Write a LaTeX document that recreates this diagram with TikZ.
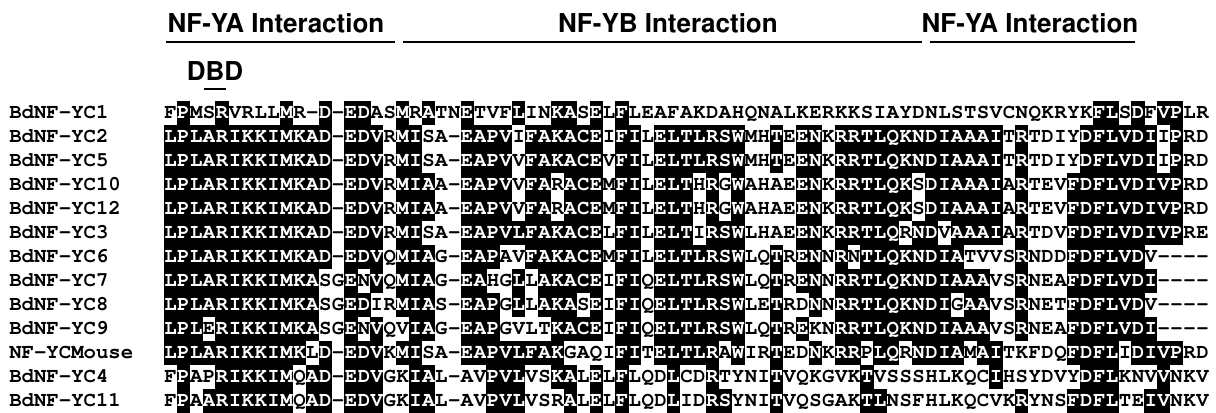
\documentclass[tikz,border=0pt]{standalone}
\usepackage[T1]{fontenc}
\usepackage{xstring}
\usetikzlibrary{positioning}

\newcommand\seqfont{\fontfamily{pcr}\fontseries{b}\fontsize{15.5}{16}\selectfont}
\newcommand\hdrfont{\fontfamily{phv}\fontseries{b}\fontsize{19.5}{21}\selectfont}

% alignment rows: number, name, sequence
\def\addrow#1#2#3{%
  \expandafter\def\csname rowname#1\endcsname{#2}%
  \expandafter\def\csname rowseq#1\endcsname{#3}}
\addrow{1}{BdNF-YC1}{FPMSRVRLLMR-D-EDASMRATNETVFLINKASELFLEAFAKDAHQNALKERKKSIAYDNLSTSVCNQKRYKFLSDFVPLR}
\addrow{2}{BdNF-YC2}{LPLARIKKIMKAD-EDVRMISA-EAPVIFAKACEIFILELTLRSWMHTEENKRRTLQKNDIAAAITRTDIYDFLVDIIPRD}
\addrow{3}{BdNF-YC5}{LPLARIKKIMKAD-EDVRMISA-EAPVVFAKACEVFILELTLRSWMHTEENKRRTLQKNDIAAAITRTDIYDFLVDIIPRD}
\addrow{4}{BdNF-YC10}{LPLARIKKIMKAD-EDVRMIAA-EAPVVFARACEMFILELTHRGWAHAEENKRRTLQKSDIAAAIARTEVFDFLVDIVPRD}
\addrow{5}{BdNF-YC12}{LPLARIKKIMKAD-EDVRMIAA-EAPVVFARACEMFILELTHRGWAHAEENKRRTLQKSDIAAAIARTEVFDFLVDIVPRD}
\addrow{6}{BdNF-YC3}{LPLARIKKIMKAD-EDVRMISA-EAPVLFAKACELFILELTIRSWLHAEENKRRTLQRNDVAAAIARTDVFDFLVDIVPRE}
\addrow{7}{BdNF-YC6}{LPLARIKKIMKAD-EDVQMIAG-EAPAVFAKACEMFILELTLRSWLQTRENNRNTLQKNDIATVVSRNDDFDFLVDV----}
\addrow{8}{BdNF-YC7}{LPLARIKKIMKASGENVQMIAG-EAHGLLAKACEIFIQELTLRSWLQTRENNRRTLQKNDIAAAVSRNEAFDFLVDI----}
\addrow{9}{BdNF-YC8}{LPLARIKKIMKASGEDIRMIAS-EAPGLLAKASEIFIQELTLRSWLETRDNNRRTLQKNDIGAAVSRNETFDFLVDV----}
\addrow{10}{BdNF-YC9}{LPLERIKKIMKASGENVQVIAG-EAPGVLTKACEIFIQELTLRSWLQTREKNRRTLQKNDIAAAVSRNEAFDFLVDI----}
\addrow{11}{NF-YCMouse}{LPLARIKKIMKLD-EDVKMISA-EAPVLFAKGAQIFITELTLRAWIRTEDNKRRPLQRNDIAMAITKFDQFDFLIDIVPRD}
\addrow{12}{BdNF-YC4}{FPAPRIKKIMQAD-EDVGKIAL-AVPVLVSKALELFLQDLCDRTYNITVQKGVKTVSSSHLKQCIHSYDVYDFLKNVVNKV}
\addrow{13}{BdNF-YC11}{FPAARIKKIMQAD-EDVGKIAL-AVPVLVSRALELFLQDLIDRSYNITVQSGAKTLNSFHLKQCVKRYNSFDFLTEIVNKV}

\begin{document}
\begin{tikzpicture}[x=0.75pt,y=-0.75pt,
    lbl/.style={font=\seqfont, anchor=west, inner sep=0pt, text height=8.7pt, text depth=0pt},
    res/.style={font=\seqfont, inner sep=0pt, text height=8.7pt, text depth=0pt},
    hit/.style={res, text=white},
    hdr/.style={font=\hdrfont, inner sep=0pt},
    bar/.style={line width=2.2pt},
  ]
  \useasboundingbox (0,0) rectangle (1216,413);

  % domain headers
  \node[hdr] (yaleft)  at (276,23)  {NF-YA Interaction};
  \node[hdr] (yb)      at (668,23)  {NF-YB Interaction};
  \node[hdr] (yaright) at (1030,23) {NF-YA Interaction};
  \draw[bar] (166,42) -- (395,42);
  \draw[bar] (403,42) -- (922,42);
  \draw[bar] (930,42) -- (1135,42);
  \node[hdr] (dbd) at (215,71) {DBD};
  \draw[bar] (204,89) -- (226,89);

  % sequence names
  \foreach \r in {1,...,13}{
    \pgfmathsetmacro\yy{113+(\r-1)*24}
    \node[lbl] (name\r) at (9,\yy) {\csname rowname\r\endcsname};
  }

  % residues, shaded where at least 7 of 13 agree
  \foreach \c in {1,...,81}{
    \gdef\colstr{}
    \foreach \r in {1,...,13}{
      \expandafter\let\expandafter\cur\csname rowseq\r\endcsname
      \StrChar{\cur}{\c}[\ch]
      \xdef\colstr{\colstr\ch}
    }
    \foreach \r in {1,...,13}{
      \expandafter\let\expandafter\cur\csname rowseq\r\endcsname
      \StrChar{\cur}{\c}[\ch]
      \StrCount{\colstr}{\ch}[\nhit]
      \pgfmathsetmacro\xx{164+(\c-0.5)*12.9}
      \pgfmathsetmacro\yy{113+(\r-1)*24}
      \IfStrEq{\ch}{-}{\def\nhit{0}}{}
      \ifnum\nhit>6
        \fill (\xx-6.6,\yy-12.2) rectangle (\xx+6.6,\yy+12.2);
        \node[hit] (r\r c\c) at (\xx,\yy) {\ch};
      \else
        \node[res] (r\r c\c) at (\xx,\yy) {\ch};
      \fi
    }
  }
\end{tikzpicture}
\end{document}
